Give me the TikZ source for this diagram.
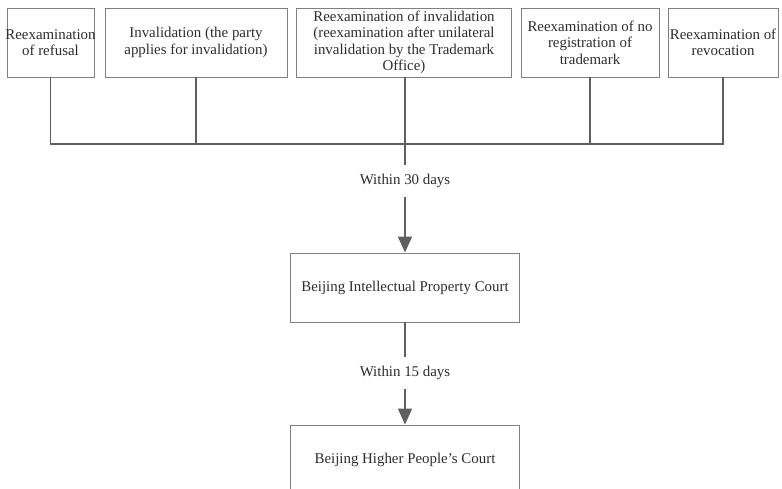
\documentclass[tikz,border=0pt]{standalone}
\usepackage{fontspec}
\setmainfont{Liberation Serif}
\usetikzlibrary{arrows.meta}

\begin{document}
\begin{tikzpicture}[
        x=1pt, y=-1pt,
        every node/.style={align=center, inner sep=0pt, text=textgray,
            font=\fontsize{14.9}{16.5}\selectfont},
        box/.style={draw=boxgray, line width=0.9pt, minimum height=69pt},
        daysnote/.style={inner xsep=2pt, inner ysep=9.5pt},
        link/.style={draw=linegray, line width=1.8pt},
    ]
        \definecolor{textgray}{RGB}{45,45,45}
        \definecolor{boxgray}{RGB}{128,128,128}
        \definecolor{linegray}{RGB}{95,95,95}

        \useasboundingbox (0,0) rectangle (782,489);
        \clip (0,0) rectangle (782,489);

        % Top row
        \node[box, minimum width=87pt] (refusal) at (50.5,42.5) {\makebox[80pt]{Reexamination}\\of refusal};
        \node[box, minimum width=182pt] (invparty) at (196,42.5) {Invalidation (the party\\applies for invalidation)};
        \node[box, minimum width=215pt] (invoffice) at (404,42.5) {Reexamination of invalidation\\(reexamination after unilateral\\invalidation by the Trademark\\Office)};
        \node[box, minimum width=138pt] (noreg) at (590,42.5) {Reexamination of no\\registration of\\trademark};
        \node[box, minimum width=110pt] (revocation) at (723,42.5) {Reexamination of\\revocation};

        % Courts
        \node[box, minimum width=229pt] (ipcourt) at (405,287.5) {Beijing Intellectual Property Court};
        \node[box, minimum width=229pt, minimum height=70pt] (highcourt) at (405,460) {Beijing Higher People's Court};

        % Time limits
        \node[daysnote] (days30) at (405,181) {Within 30 days};
        \node[daysnote] (days15) at (405,373) {Within 15 days};

        % Edges
        \coordinate (bus) at (405,144);
        \draw[link] (refusal.south) |- (bus) -| (revocation.south);
        \draw[link] (invparty.south) -- (invparty.south |- bus);
        \draw[link] (noreg.south) -- (noreg.south |- bus);
        \draw[link] (invoffice.south -| bus) -- (days30);
        \draw[link, -{Triangle[length=16pt, width=14pt]}, fill=linegray] (days30) -- (ipcourt);
        \draw[link] (ipcourt) -- (days15);
        \draw[link, -{Triangle[length=16pt, width=14pt]}, fill=linegray] (days15) -- (highcourt);

    \end{tikzpicture}
\end{document}
